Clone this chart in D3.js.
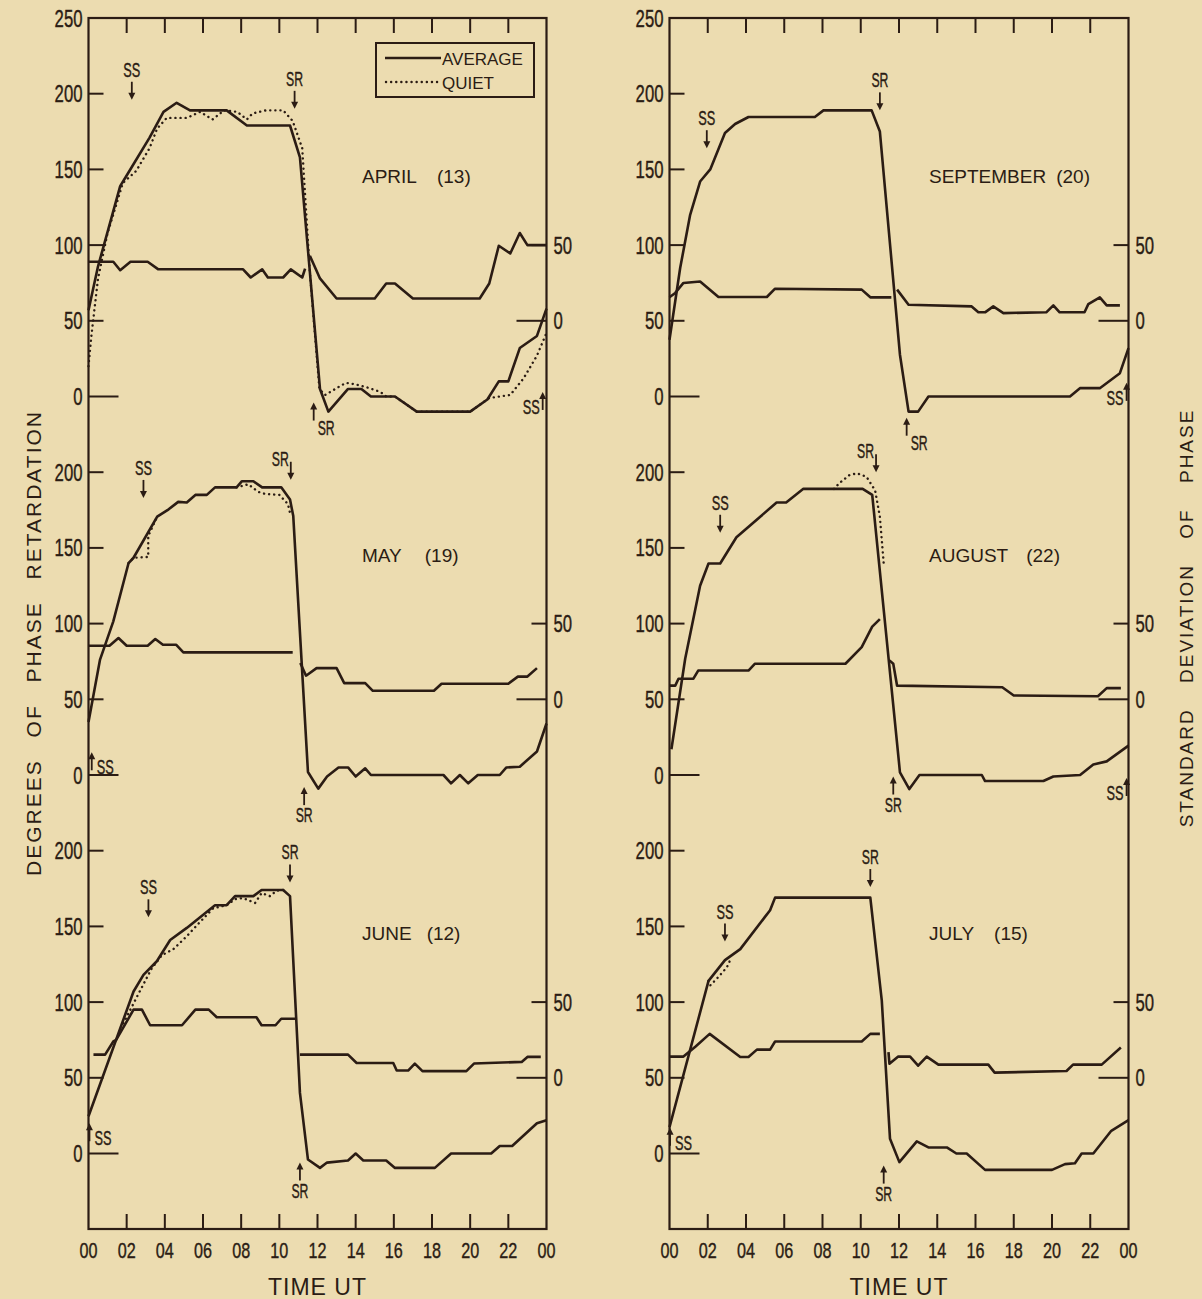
<!DOCTYPE html>
<html lang="en">
<head>
  <meta charset="UTF-8">
  <title>phase retardation</title>
  <script src="https://cdn.jsdelivr.net/npm/d3@7"></script>
  <style>
    body { margin: 0; background: #ecdcb0; }
    svg text { stroke: #2b1c14; stroke-width: 0.4px; }
    svg text.plain { stroke: none; }
  </style>
</head>
<body>
  <svg width="1202" height="1299"></svg>
  <script>
    // ---- data (hour UT, degrees) ----
    var monthNames = ['APRIL', 'MAY', 'JUNE', 'SEPTEMBER', 'AUGUST', 'JULY']
    var monthCounts = [13, 19, 12, 20, 22, 15]
    var hourTicks = [0, 2, 4, 6, 8, 10, 12, 14, 16, 18, 20, 22, 24]
    var hourLabels = ['00', '02', '04', '06', '08', '10', '12', '14', '16', '18', '20', '22', '00']
    var phaseTicks = [0, 50, 100, 150, 200]
    var sdTicks = [0, 50]

    var aprilAvg = [[0, 57], [0.5, 86], [1.05, 111], [1.66, 139], [2.0, 146], [3.2, 171], [3.93, 188], [4.62, 194], [5.32, 189], [7.24, 189], [8.3, 179], [10.56, 179], [11.08, 158], [12.13, 5], [12.57, -10], [13.6, 5], [14.3, 5], [14.8, 0], [16.06, 0], [17.2, -10], [20, -10], [20.9, -2], [21.5, 10], [22, 10], [22.6, 32], [23.5, 40], [24, 58]]
    var aprilQuiet = [[[0, 20], [0.15, 40], [0.5, 78], [1.0, 108], [1.8, 141], [2.5, 149], [3.2, 164], [3.6, 177], [4.1, 184], [5.15, 184], [5.85, 188], [6.5, 183], [7.1, 189], [7.8, 188], [8.3, 183], [8.6, 187], [9.3, 189], [10.2, 189], [10.7, 182], [11.2, 164], [11.6, 82], [12.1, 5], [12.4, 1], [13.2, 7], [13.5, 9], [14.0, 8], [14.6, 6], [15.3, 3], [15.6, 0], [16.06, 0], [17.2, -10], [20, -10], [21.0, -1], [22.1, 1], [22.8, 12], [23.5, 27], [24, 42]]]
    var aprilSd = [[[0, 39], [1.3, 39], [1.66, 33.4], [2.2, 39], [3.1, 39], [3.66, 34], [8.1, 34], [8.5, 28.6], [9.1, 34], [9.4, 28.6], [10.2, 28.6], [10.6, 34], [11.2, 28.6], [11.35, 34.5]],
      [[11.6, 43], [12.13, 28], [13, 14.7], [15, 14.7], [15.6, 24.6], [16.06, 24.6], [17, 14.7], [20.5, 14.7], [21, 24.6], [21.5, 49.6], [22.1, 44.5], [22.6, 58], [23, 50], [24, 50]]]
    var aprilMarks = [['SS', 'down', 2.27, 196, 'above'], ['SR', 'down', 10.8, 190, 'above'], ['SR', 'up', 11.8, -4, 'rightlow'], ['SS', 'up', 23.8, 3, 'left']]

    var mayAvg = [[0, 35], [0.6, 76], [1.3, 101.5], [2.1, 140], [2.36, 143.5], [3.6, 170.6], [4.2, 175.5], [4.7, 180.4], [5.15, 180], [5.6, 185], [6.2, 185], [6.63, 190], [7.76, 190], [8.03, 194], [8.64, 194], [9.1, 190], [10.1, 190], [10.56, 182], [10.73, 171], [11.5, 2], [12.04, -9], [12.5, -1], [13.1, 5], [13.6, 5], [14, -1], [14.5, 4.4], [14.8, 0], [18.6, 0], [19.0, -5.5], [19.46, 0], [19.9, -5.5], [20.4, 0], [21.55, 0], [21.9, 5], [22.6, 5.5], [23.5, 15.5], [24, 34]]
    var mayQuiet = [[[2.1, 140], [2.36, 143.5], [3.13, 144], [3.13, 157.8], [3.6, 170.6]],
      [[7.76, 190], [8.37, 192], [8.9, 187], [9.28, 185.6], [10.0, 185], [10.45, 179], [10.6, 171]]]
    var maySd = [[[0, 35.4], [1.1, 35.4], [1.57, 40.5], [2, 35.4], [3.1, 35.4], [3.5, 39.8], [3.9, 36], [4.6, 36], [4.97, 31], [10.7, 31]],
      [[11.1, 24], [11.4, 15.6], [11.95, 20.6], [13, 20.6], [13.4, 10.7], [14.5, 10.7], [14.9, 5.6], [18.1, 5.6], [18.5, 10.3], [22, 10.3], [22.5, 15], [23, 15], [23.5, 20.6]]]
    var mayMarks = [['SS', 'down', 2.88, 183, 'above'], ['SR', 'down', 10.6, 195, 'aboveleft'], ['SS', 'up', 0.17, 15, 'right'], ['SR', 'up', 11.3, -8, 'below']]

    var juneAvg = [[0, 24.6], [2.36, 107], [2.88, 118], [3.58, 127], [4.28, 141], [5.15, 149], [6.63, 164], [7.24, 164], [7.68, 170], [8.64, 170], [9.07, 174], [10.2, 174], [10.56, 170], [11.08, 40], [11.5, -4], [12.13, -9.5], [12.5, -6], [13.6, -4.6], [14, 0], [14.4, -4.6], [15.6, -4.6], [16.06, -9.5], [18.15, -9.5], [19, 0], [21.1, 0], [21.55, 5], [22.2, 5], [23.5, 20], [24, 22]]
    var juneQuiet = [[[1.83, 86], [2.6, 105], [3.3, 122], [3.84, 131], [4.45, 135], [5.15, 143.5], [5.85, 153], [6.54, 162], [7.24, 164], [7.68, 168], [8.1, 168.7], [8.73, 165.5], [9.07, 172], [9.5, 170], [9.86, 173.6], [10.2, 174]]]
    var juneSd = [[[0.26, 15.3], [0.87, 15.3], [1.3, 24], [1.45, 25], [2.36, 45], [2.8, 45], [3.23, 34.7], [4.9, 34.7], [5.6, 45], [6.3, 45], [6.72, 40], [8.8, 40], [9.07, 34.7], [9.8, 34.7], [10.1, 39], [10.9, 39]],
      [[11.08, 15.3], [13.6, 15.3], [14.05, 9.8], [15.97, 9.8], [16.15, 4.8], [16.75, 4.8], [17.1, 9.4], [17.5, 4.4], [19.8, 4.4], [20.2, 9.4], [22.7, 10.5], [23, 13.8], [23.7, 13.8]]]
    var juneMarks = [['SS', 'down', 3.14, 156, 'above'], ['SR', 'down', 10.56, 179, 'above'], ['SS', 'up', 0.05, 20, 'right'], ['SR', 'up', 11.08, -6, 'below']]

    var septAvg = [[0, 37.5], [0.56, 85], [1.08, 120], [1.6, 142], [2.13, 150], [2.9, 174], [3.43, 180], [4.13, 184.6], [7.6, 184.6], [8.05, 189], [10.57, 189], [11, 175], [12.05, 27.6], [12.5, -10], [13, -10], [13.54, 0], [20.94, 0], [21.46, 5.5], [22.5, 5.5], [23.55, 15.4], [24, 32]]
    var septQuiet = []
    var septSd = [[[0, 15.5], [0.3, 18.4], [0.73, 25], [1.6, 26], [2.56, 15.7], [5.09, 15.7], [5.52, 21.2], [10.05, 20.6], [10.5, 15.5], [11.6, 15.5]],
      [[11.9, 20.6], [12.5, 10.6], [15.8, 9.5], [16.15, 5.6], [16.5, 5.6], [16.93, 9.5], [17.46, 5.1], [19.7, 5.6], [20.07, 10.2], [20.4, 5.6], [21.7, 5.6], [21.9, 11], [22.5, 15.5], [22.86, 10.2], [23.55, 10.2]]]
    var septMarks = [['SS', 'down', 1.95, 164, 'above'], ['SR', 'down', 11, 189, 'above'], ['SR', 'up', 12.4, -14, 'rightlow'], ['SS', 'up', 23.9, 9, 'left']]

    var augAvg = [[0.1, 17], [0.82, 76.8], [1.6, 125], [2.04, 139.7], [2.65, 139.7], [3.5, 157], [5.6, 180], [6.1, 180], [7, 189], [10.1, 189], [10.6, 185], [12.05, 1.8], [12.54, -9.3], [13.07, 0], [16.33, 0], [16.5, -4], [19.55, -4], [20.07, -1], [21.47, 0], [22.16, 7], [22.86, 9], [24, 19.4]]
    var augQuiet = [[[8.6, 189], [8.9, 193], [9.4, 198], [9.8, 199.3], [10.3, 197], [10.75, 188], [11.0, 170.6], [11.2, 139.7]]]
    var augSd = [[[0, 9], [0.3, 9], [0.47, 13.6], [1.25, 13.6], [1.5, 19], [4.13, 19], [4.47, 23.5], [9.2, 23.5], [10.05, 34.5], [10.6, 48], [11, 53]],
      [[11.5, 25.7], [11.7, 23.5], [11.9, 9], [17.4, 8], [18, 2.5], [22.4, 2], [22.86, 7.4], [23.6, 7.4]]]
    var augMarks = [['SS', 'down', 2.65, 160, 'above'], ['SR', 'down', 10.8, 200, 'aboveleft'], ['SR', 'up', 11.7, -1, 'below'], ['SS', 'up', 23.9, -2, 'left']]

    var julyAvg = [[0, 17.4], [2.04, 114], [2.9, 127.7], [3.7, 135], [5.26, 160.7], [5.52, 169], [10.5, 169], [11.1, 101], [11.53, 9.7], [12.02, -5.7], [12.93, 8], [13.54, 4], [14.5, 4], [15, 0], [15.54, 0], [16.5, -10.8], [20, -10.8], [20.68, -7], [21.2, -6.4], [21.55, 0], [22.16, 0], [23.1, 15], [24, 22]]
    var julyQuiet = [[[2.04, 114], [2.13, 111], [2.56, 116.6], [3.0, 123], [3.2, 128.5]]]
    var julySd = [[[0, 14], [0.73, 14], [1.35, 20.5], [2.1, 29], [3.7, 13.7], [4.13, 13.7], [4.57, 18.6], [5.26, 18.6], [5.52, 24], [10.05, 24], [10.5, 29], [11, 29]],
      [[11.45, 17], [11.5, 9.3], [11.96, 14], [12.58, 14], [13.0, 8], [13.45, 14], [14.06, 8.7], [16.67, 8.7], [17.0, 3.4], [20.76, 4.5], [21.1, 8.7], [22.6, 8.7], [23.6, 20]]]
    var julyMarks = [['SS', 'down', 2.9, 140, 'above'], ['SR', 'down', 10.5, 176, 'above'], ['SS', 'up', 0.03, 17, 'right'], ['SR', 'up', 11.2, -8, 'below']]

    var avgs = [aprilAvg, mayAvg, juneAvg, septAvg, augAvg, julyAvg]
    var quiets = [aprilQuiet, mayQuiet, juneQuiet, septQuiet, augQuiet, julyQuiet]
    var sds = [aprilSd, maySd, juneSd, septSd, augSd, julySd]
    var marks = [aprilMarks, mayMarks, juneMarks, septMarks, augMarks, julyMarks]

    // ---- layout ----
    var ink = '#2b1c14'
    var sans = "'Liberation Sans', 'DejaVu Sans', sans-serif"
    var colX = [[88.5, 546.5], [669.5, 1128.5]]
    var frameTop = 18, frameBottom = 1229
    var rowZero = [396.5, 775, 1153.5]
    var rowH = 378.5
    var labelGap = [20, 23, 15, 10, 18, 20]

    var svg = d3.select('svg')
    svg.append('rect').attr('width', 1202).attr('height', 1299).attr('fill', '#ecdcb0')

    var line = d3.line().x(d => d[0]).y(d => d[1])

    // condensed lettering: squeeze glyphs to a fixed width per character
    function squeeze(sel, perChar) {
      sel.attr('textLength', function () { return this.textContent.length * perChar })
        .attr('lengthAdjust', 'spacingAndGlyphs')
    }

    colX.forEach(function (cx, c) {
      var x = d3.scaleLinear().domain([0, 24]).range(cx)
      var g = svg.append('g')

      g.append('rect')
        .attr('x', cx[0]).attr('y', frameTop)
        .attr('width', cx[1] - cx[0]).attr('height', frameBottom - frameTop)
        .attr('fill', 'none').attr('stroke', ink).attr('stroke-width', 2.2)

      // hour ticks top & bottom
      var inner = hourTicks.slice(1, -1)
      g.selectAll('.tt').data(inner).enter().append('line')
        .attr('x1', d => x(d)).attr('x2', d => x(d))
        .attr('y1', frameTop).attr('y2', frameTop + 15)
        .attr('stroke', ink).attr('stroke-width', 2)
      g.selectAll('.tb').data(inner).enter().append('line')
        .attr('x1', d => x(d)).attr('x2', d => x(d))
        .attr('y1', frameBottom).attr('y2', frameBottom - 15)
        .attr('stroke', ink).attr('stroke-width', 2)
      g.selectAll('.tl').data(hourTicks).enter().append('text')
        .attr('x', d => x(d)).attr('y', 1258)
        .attr('text-anchor', 'middle')
        .style('font-family', sans).style('font-size', '22px').attr('fill', ink)
        .text((d, i) => hourLabels[i])
        .call(squeeze, 9)
      g.append('text')
        .attr('class', 'plain')
        .attr('x', (cx[0] + cx[1]) / 2).attr('y', 1295)
        .attr('text-anchor', 'middle')
        .style('font-family', sans).style('font-size', '23px').style('letter-spacing', '1px').attr('fill', ink)
        .text('TIME UT')

      rowZero.forEach(function (z, r) {
        var idx = c * 3 + r
        var y = d3.scaleLinear().domain([0, 250]).range([z, z - rowH])
        var sdY = d3.scaleLinear().domain([0, 50]).range([y(50), y(100)])
        var pg = g.append('g')

        // phase ticks (left side)
        pg.selectAll('.yt').data(phaseTicks).enter().append('line')
          .attr('x1', cx[0]).attr('x2', d => cx[0] + (d === 0 ? 30 : 15))
          .attr('y1', d => y(d)).attr('y2', d => y(d))
          .attr('stroke', ink).attr('stroke-width', 2)
        var labs = r === 0 ? phaseTicks.concat([250]) : phaseTicks
        pg.selectAll('.yl').data(labs).enter().append('text')
          .attr('x', cx[0] - 6).attr('y', d => y(d) + 8.5)
          .attr('text-anchor', 'end')
          .style('font-family', sans).style('font-size', '23px').attr('fill', ink)
          .text(d => d)
          .call(squeeze, 9.3)

        // standard deviation ticks (right side)
        pg.selectAll('.st').data(sdTicks).enter().append('line')
          .attr('x1', d => cx[1] - (d === 0 ? 30 : 15)).attr('x2', cx[1])
          .attr('y1', d => sdY(d)).attr('y2', d => sdY(d))
          .attr('stroke', ink).attr('stroke-width', 2)
        pg.selectAll('.sl').data(sdTicks).enter().append('text')
          .attr('x', cx[1] + 7).attr('y', d => sdY(d) + 8.5)
          .style('font-family', sans).style('font-size', '23px').attr('fill', ink)
          .text(d => d)
          .call(squeeze, 9.3)

        // curves
        pg.append('path')
          .attr('d', line(avgs[idx].map(p => [x(p[0]), y(p[1])])))
          .attr('fill', 'none').attr('stroke', ink).attr('stroke-width', 2.6)
          .attr('stroke-linejoin', 'round')
        sds[idx].forEach(function (seg) {
          pg.append('path')
            .attr('d', line(seg.map(p => [x(p[0]), sdY(p[1])])))
            .attr('fill', 'none').attr('stroke', ink).attr('stroke-width', 2.6)
            .attr('stroke-linejoin', 'round')
        })
        quiets[idx].forEach(function (seg) {
          pg.append('path')
            .attr('d', line(seg.map(p => [x(p[0]), y(p[1])])))
            .attr('fill', 'none').attr('stroke', ink).attr('stroke-width', 2.4)
            .attr('stroke-linecap', 'round').attr('stroke-dasharray', '0.1,5')
        })

        // month label
        var lt = pg.append('text')
          .attr('class', 'plain')
          .attr('x', c === 0 ? 362 : 929).attr('y', y(141))
          .style('font-family', sans).style('font-size', '19px').attr('fill', ink)
        lt.append('tspan').text(monthNames[idx])
        lt.append('tspan').attr('dx', labelGap[idx]).text('(' + monthCounts[idx] + ')')

        // sunset / sunrise arrows
        marks[idx].forEach(function (m) {
          var px = x(m[2]), py = y(m[3]), len = 18
          var mg = pg.append('g')
          var t = mg.append('text')
            .style('font-family', sans).style('font-size', '20px').attr('fill', ink).text(m[0])
            .call(squeeze, 8.5)
          if (m[1] === 'down') {
            mg.append('line').attr('x1', px).attr('x2', px).attr('y1', py - len).attr('y2', py - 5)
              .attr('stroke', ink).attr('stroke-width', 1.8)
            mg.append('path').attr('d', 'M' + (px - 3.5) + ',' + (py - 7) + 'L' + (px + 3.5) + ',' + (py - 7) + 'L' + px + ',' + py + 'Z')
              .attr('fill', ink)
            if (m[4] === 'aboveleft') t.attr('x', px - 2).attr('y', py - 14).attr('text-anchor', 'end')
            else t.attr('x', px).attr('y', py - len - 5).attr('text-anchor', 'middle')
          } else {
            mg.append('line').attr('x1', px).attr('x2', px).attr('y1', py + 5).attr('y2', py + len)
              .attr('stroke', ink).attr('stroke-width', 1.8)
            mg.append('path').attr('d', 'M' + (px - 3.5) + ',' + (py + 7) + 'L' + (px + 3.5) + ',' + (py + 7) + 'L' + px + ',' + py + 'Z')
              .attr('fill', ink)
            if (m[4] === 'below') t.attr('x', px).attr('y', py + len + 17).attr('text-anchor', 'middle')
            else if (m[4] === 'right') t.attr('x', px + 5).attr('y', py + len + 4)
            else if (m[4] === 'rightlow') t.attr('x', px + 4).attr('y', py + len + 14)
            else t.attr('x', px - 3).attr('y', py + len + 4).attr('text-anchor', 'end')
          }
        })
      })
    })

    // legend (April panel)
    var lg = svg.append('g')
    lg.append('rect').attr('x', 376).attr('y', 43).attr('width', 158).attr('height', 54)
      .attr('fill', 'none').attr('stroke', ink).attr('stroke-width', 2)
    lg.append('line').attr('x1', 385).attr('x2', 441).attr('y1', 58).attr('y2', 58)
      .attr('stroke', ink).attr('stroke-width', 2.6)
    lg.append('line').attr('x1', 386).attr('x2', 440).attr('y1', 82).attr('y2', 82)
      .attr('stroke', ink).attr('stroke-width', 2.4).attr('stroke-linecap', 'round').attr('stroke-dasharray', '0.1,5')
    lg.append('text').attr('class', 'plain').attr('x', 442).attr('y', 65)
      .style('font-family', sans).style('font-size', '17px').attr('fill', ink).text('AVERAGE')
    lg.append('text').attr('class', 'plain').attr('x', 442).attr('y', 89)
      .style('font-family', sans).style('font-size', '17px').attr('fill', ink).text('QUIET')

    // axis titles
    svg.append('text')
      .attr('class', 'plain')
      .attr('transform', 'translate(41,643) rotate(-90)')
      .attr('text-anchor', 'middle')
      .style('font-family', sans).style('font-size', '21px')
      .style('letter-spacing', '2px').style('word-spacing', '14px')
      .attr('fill', ink)
      .text('DEGREES OF PHASE RETARDATION')
    svg.append('text')
      .attr('class', 'plain')
      .attr('transform', 'translate(1193,618) rotate(-90)')
      .attr('text-anchor', 'middle')
      .style('font-family', sans).style('font-size', '19px')
      .style('letter-spacing', '2px').style('word-spacing', '18px')
      .attr('fill', ink)
      .text('STANDARD DEVIATION OF PHASE')
  </script>
</body>
</html>
